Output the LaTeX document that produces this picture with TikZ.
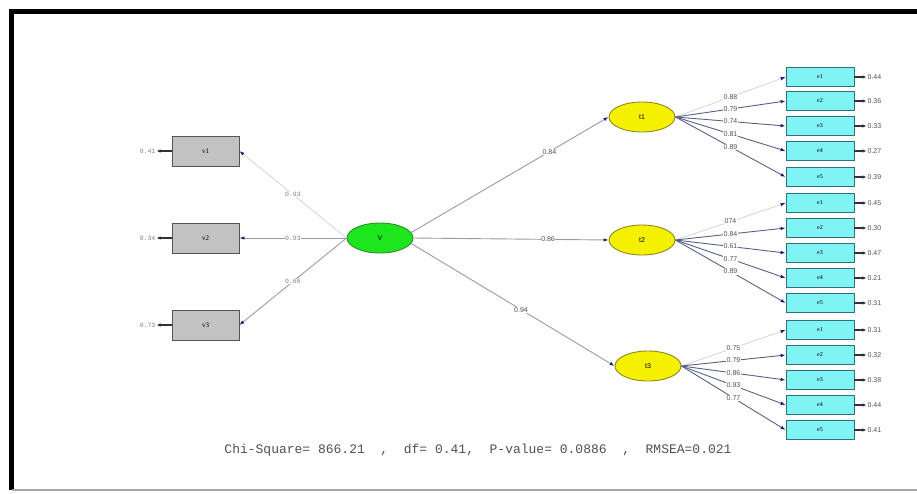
\documentclass[tikz,border=0pt]{standalone}
\usepackage{fontspec}
\setmainfont{Liberation Sans}
\newfontfamily\monofont{Liberation Mono}
\newfontfamily\boxfont{Liberation Serif}
\usetikzlibrary{ shapes.geometric, % For the ellipses
                 arrows.meta,
                 positioning,      % For the error terms next to the boxes
               }
\definecolor{xigreen}{HTML}{1EE61E}
\definecolor{xiedge}{HTML}{2E8B2E}
\definecolor{etayellow}{HTML}{F5F000}
\definecolor{etaedge}{HTML}{8A8A20}
\definecolor{vboxfill}{HTML}{C2C2C2}
\definecolor{vboxedge}{HTML}{555555}
\definecolor{eboxfill}{HTML}{80F4F4}
\definecolor{eboxedge}{HTML}{2F6F7F}
\definecolor{coefgray}{HTML}{505050}
\definecolor{tipblue}{HTML}{1A1A6E}
\definecolor{loadgray}{HTML}{5A6088}
\definecolor{maingray}{HTML}{9A9AA4}
\definecolor{litegray}{HTML}{D8D8D8}
\definecolor{errdark}{HTML}{303040}

\tikzstyle{latent} = [ellipse, line width=0.9pt, minimum width=66pt, minimum height=30pt, inner sep=0pt, font=\fontsize{7}{8}\selectfont]
\tikzstyle{xvar} = [latent, fill=xigreen, draw=xiedge]
\tikzstyle{yvar} = [latent, fill=etayellow, draw=etaedge]
\tikzstyle{vbox} = [rectangle, draw=vboxedge, fill=vboxfill, line width=0.8pt, minimum width=67pt, minimum height=30pt, font=\boxfont\fontsize{7}{8}\selectfont]
\tikzstyle{ebox} = [rectangle, draw=eboxedge, fill=eboxfill, line width=0.8pt, minimum width=68pt, minimum height=19pt, font=\boxfont\fontsize{6}{7}\selectfont]
\tikzstyle{load} = [-{Latex[length=5pt,width=3.5pt,color=tipblue]}, line width=0.9pt]
\tikzstyle{coef} = [fill=white, inner sep=0.6pt, text=coefgray, font=\fontsize{7}{8}\selectfont]
\tikzstyle{vcoef} = [coef, text=gray, font=\monofont\fontsize{6.5}{7}\selectfont]
\tikzstyle{errv} = [inner sep=1pt, text=coefgray, font=\fontsize{7}{8}\selectfont]
\tikzstyle{verr} = [errv, text=gray, font=\monofont\fontsize{6.5}{7}\selectfont]
\tikzstyle{errarr} = [-{Latex[length=4pt,width=3.5pt]}, line width=1.3pt, draw=errdark]
\tikzstyle{statline} = [text=coefgray, font=\monofont\fontsize{13}{14}\selectfont]

\begin{document}
\begin{tikzpicture}[x=1pt, y=-1pt]
  \useasboundingbox (0,0) rectangle (917,493);
  \draw [line width=4.5pt] (11.5,490) -- (11.5,11.5) -- (917,11.5);
  \draw [gray!70, line width=2pt] (11.5,490) -- (917,490);

  \node (V) [xvar] at (380, 238) {V};

  \node (v1) [vbox] at (205.5, 151) {v1};
  \node (v2) [vbox] at (205.5, 238) {v2};
  \node (v3) [vbox] at (205.5, 325) {v3};
  \node (r1) [verr, left=15pt of v1] {0.41};
  \node (r2) [verr, left=15pt of v2] {0.34};
  \node (r3) [verr, left=15pt of v3] {0.73};
  \draw [errarr] (v1) -- (r1);
  \draw [errarr] (v2) -- (r2);
  \draw [errarr] (v3) -- (r3);

  \path (V.west) edge [load, draw=litegray] node[vcoef] {0.93} (v1.east);
  \path (V.west) edge [load, draw=maingray] node[vcoef] {0.93} (v2.east);
  \path (V.west) edge [load, draw=maingray] node[vcoef] {0.66} (v3.east);

  \node (t1) [yvar] at (642, 117) {t1};
  \node (t2) [yvar] at (642, 240) {t2};
  \node (t3) [yvar] at (648, 366) {t3};

  \path (V.10) edge [load, draw=maingray] node[coef, pos=0.7] {0.84} (t1.west);
  \path (V.east) edge [load, draw=maingray] node[coef, pos=0.69] {0.86} (t2.west);
  \path (V.-10) edge [load, draw=maingray] node[coef, pos=0.54] {0.94} (t3.west);

  % indicators: latent / item / y / loading / error / line colour
  \foreach \lv/\k/\yk/\ld/\ev/\col in {t1/1/77/0.88/0.44/litegray, t1/2/101/0.79/0.36/loadgray,
      t1/3/126/0.74/0.33/loadgray, t1/4/151/0.81/0.27/loadgray, t1/5/177/0.89/0.39/loadgray,
      t2/1/203/074/0.45/litegray, t2/2/228/0.84/0.30/loadgray, t2/3/253/0.61/0.47/loadgray,
      t2/4/278/0.77/0.21/loadgray, t2/5/303/0.89/0.31/loadgray,
      t3/1/330/0.75/0.31/litegray, t3/2/355/0.79/0.32/loadgray, t3/3/380/0.86/0.38/loadgray,
      t3/4/405/0.93/0.44/loadgray, t3/5/430/0.77/0.41/loadgray}
  {
    \node (\lv e\k) [ebox] at (820, \yk) {e\k};
    \node (\lv r\k) [errv, right=12pt of \lv e\k] {\ev};
    \path (\lv.east) edge [load, draw=\col] node[coef] {\ld} (\lv e\k.west);
    \draw [errarr] (\lv e\k) -- (\lv r\k);
  }

  \node (fit) [statline] at (478, 450) {Chi-Square=~866.21~~,~~df=~0.41,~~P-value=~0.0886~~,~~RMSEA=0.021};
\end{tikzpicture}
\end{document}
